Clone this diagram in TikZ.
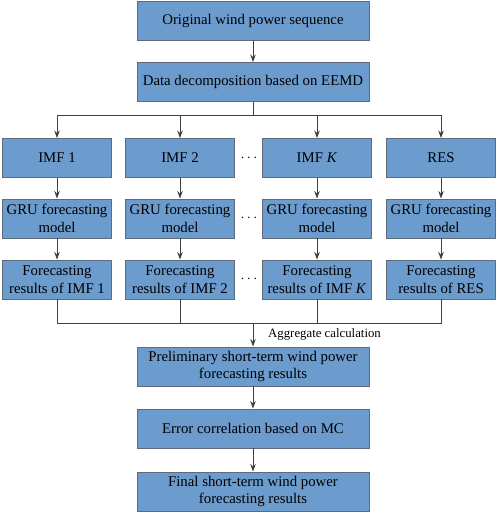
\documentclass[tikz,border=0pt]{standalone}
\usepackage{fontspec}
\setmainfont{Liberation Serif}
\usetikzlibrary{arrows.meta}
\definecolor{boxblue}{HTML}{6C9BCD}
\definecolor{boxline}{HTML}{5F6B78}
\definecolor{arrgray}{HTML}{404040}
\tikzset{
	fbox/.style={draw=boxline, line width=0.9pt, fill=boxblue, inner sep=0pt, align=center,
		font=\fontsize{14.8}{17.5}\selectfont, minimum height=39pt},
	wide/.style={fbox, minimum width=232pt},
	col/.style={fbox, minimum width=109pt},
	conn/.style={draw=arrgray, line width=0.8pt},
	arr/.style={conn, -{Stealth[length=7.5pt, width=5.5pt]}},
	dotsnode/.style={inner sep=0pt, font=\fontsize{14}{16}\selectfont}
}
\begin{document}
\begin{tikzpicture}[x=1pt, y=1pt]
		\useasboundingbox (0,0) rectangle (498,-513);
		%top of the chain
		\node[wide] (orig) at (253,-21) {Original wind power sequence};
		\node[wide] (eemd) at (253,-82) {Data decomposition based on EEMD};
		%decomposed parts
		\node[col] (imf1) at (57,-158) {IMF 1};
		\node[col] (imf2) at (180,-158) {IMF 2};
		\node[col] (imfk) at (317,-158) {IMF \textit{K}};
		\node[col] (res) at (441,-158) {RES};
		%forecasting models
		\node[col] (gru1) at (57,-218.5) {GRU forecasting\\model};
		\node[col] (gru2) at (180,-218.5) {GRU forecasting\\model};
		\node[col] (gruk) at (317,-218.5) {GRU forecasting\\model};
		\node[col] (grures) at (441,-218.5) {GRU forecasting\\model};
		%results per part
		\node[col] (out1) at (57,-279.5) {Forecasting\\results of IMF 1};
		\node[col] (out2) at (180,-279.5) {Forecasting\\results of IMF 2};
		\node[col] (outk) at (317,-279.5) {Forecasting\\results of IMF \textit{K}};
		\node[col] (outres) at (441,-279.5) {Forecasting\\results of RES};
		%dots between IMF 2 and IMF K
		\node[dotsnode] (dots1) at (249,-158) {$\cdots$};
		\node[dotsnode] (dots2) at (249,-218.5) {$\cdots$};
		\node[dotsnode] (dots3) at (249,-279.5) {$\cdots$};
		%bottom of the chain
		\node[wide] (prelim) at (253,-366.5) {Preliminary short-term wind power\\forecasting results};
		\node[wide] (errmc) at (253,-428.5) {Error correlation based on MC};
		\node[wide] (final) at (253,-491.5) {Final short-term wind power\\forecasting results};

		\coordinate (split) at (253,-115);
		\coordinate (merge) at (253,-323);

		\draw[arr] (orig) -- (eemd);
		\draw[conn] (eemd) -- (split);
		\draw[arr] (split) -| (imf1.north);
		\draw[arr] (split) -| (imf2.north);
		\draw[arr] (split) -| (imfk.north);
		\draw[arr] (split) -| (res.north);

		\draw[arr] (imf1) -- (gru1);
		\draw[arr] (imf2) -- (gru2);
		\draw[arr] (imfk) -- (gruk);
		\draw[arr] (res) -- (grures);
		\draw[arr] (gru1) -- (out1);
		\draw[arr] (gru2) -- (out2);
		\draw[arr] (gruk) -- (outk);
		\draw[arr] (grures) -- (outres);

		\draw[conn] (out1.south) |- (merge);
		\draw[conn] (out2.south) |- (merge);
		\draw[conn] (outk.south) |- (merge);
		\draw[conn] (outres.south) |- (merge);
		\draw[arr] (merge) -- (prelim.north);
		\node[anchor=west, inner sep=0pt, font=\fontsize{12.8}{14}\selectfont] (agg) at (268,-334) {Aggregate calculation};

		\draw[arr] (prelim) -- (errmc);
		\draw[arr] (errmc) -- (final);
	\end{tikzpicture}
\end{document}
